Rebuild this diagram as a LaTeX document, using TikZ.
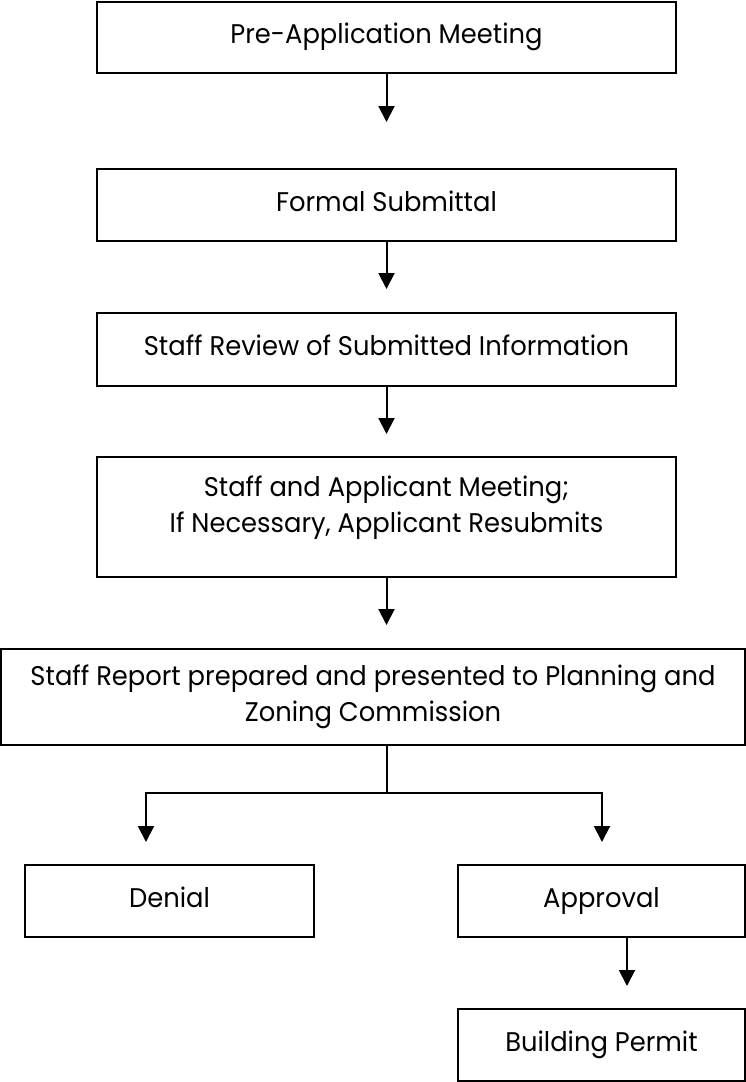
\documentclass[tikz,border=0pt]{standalone}
\usepackage{fontspec}
\setmainfont{Poppins}[FakeStretch=0.955]
\usetikzlibrary{arrows.meta}
\begin{document}
\begin{tikzpicture}[x=1pt,y=-1pt,
  box/.style={draw=black,line width=2pt,minimum width=#1,inner sep=0pt},
  lbl/.style={font=\fontsize{27}{36.5}\selectfont,align=center,inner sep=0pt},
  one/.style={lbl,text height=18pt,text depth=6pt},
  arr/.style={line width=2pt,-{Triangle[width=16pt,length=16pt]}},
  ln/.style={line width=2pt}]
\useasboundingbox (0,0) rectangle (746,1082);
% boxes
\node[box=579pt,minimum height=71pt,one] (s1) at (386.5,37.5) {Pre-Application Meeting};
\node[box=579pt,minimum height=72pt,one] (s2) at (386.5,205) {Formal Submittal};
\node[box=579pt,minimum height=73pt,one] (s3) at (386.5,349.5) {Staff Review of Submitted Information};
\node[box=579pt,minimum height=120pt] (s4) at (386.5,517) {};
\node[lbl] (s4t) at (386.5,507.5) {Staff and Applicant Meeting;\\If Necessary, Applicant Resubmits};
\node[box=744pt,minimum height=96pt,lbl] (s5) at (373,697) {Staff Report prepared and presented to Planning and\\Zoning Commission};
\node[box=289pt,minimum height=72pt,one] (den) at (169.5,901) {Denial};
\node[box=287pt,minimum height=72pt,one] (app) at (601.5,901) {Approval};
\node[box=287pt,minimum height=72pt,one] (bp) at (601.5,1045) {Building Permit};
% connectors
\coordinate (e1) at (386.5,122);
\coordinate (e2) at (386.5,289);
\coordinate (e3) at (386.5,434);
\coordinate (e4) at (386.5,625);
\coordinate (j) at (386.5,793);
\coordinate (jl) at (146,793);
\coordinate (jr) at (602,793);
\coordinate (el) at (146,842);
\coordinate (er) at (602,842);
\coordinate (ea) at (627,986);
\draw[arr] (s1.south) -- (e1);
\draw[arr] (s2.south) -- (e2);
\draw[arr] (s3.south) -- (e3);
\draw[arr] (s4.south) -- (e4);
\draw[ln] (s5.south -| j) -- (j);
\draw[arr] (j) -- (jl) -- (el);
\draw[arr] (j) -- (jr) -- (er);
\draw[arr] (app.south -| ea) -- (ea);
\end{tikzpicture}
\end{document}
